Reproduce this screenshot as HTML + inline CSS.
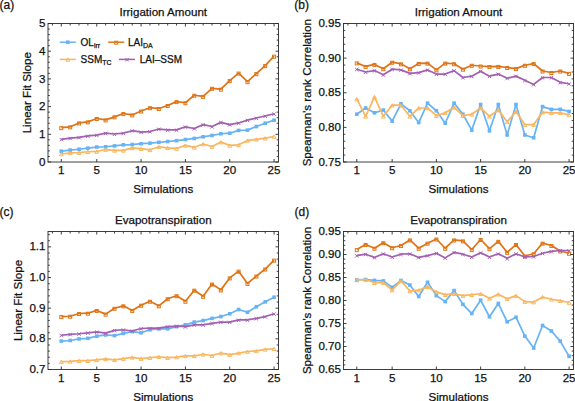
<!DOCTYPE html>
<html><head><meta charset="utf-8"><style>
html,body{margin:0;padding:0;background:#fff;}
svg{display:block;}
text{font-family:"Liberation Sans", sans-serif;font-size:11.6px;fill:#111;stroke:#111;stroke-width:0.25px;}
</style></head><body>
<svg width="575" height="401" viewBox="0 0 575 401">
<rect width="575" height="401" fill="#fff"/>
<polyline fill="none" stroke="#66b3f6" stroke-width="1.7" stroke-linejoin="round" points="61.3,151.2 70.16,150.09 79.03,149.26 87.89,148.15 96.76,147.04 105.62,146.76 114.49,145.93 123.36,144.83 132.22,144.55 141.09,143.72 149.95,143.16 158.82,142.33 167.68,141.5 176.55,140.67 185.41,139.56 194.28,138.46 203.14,136.79 212.01,135.41 220.88,133.75 229.74,133.19 238.61,130.42 247.47,130.15 256.34,126.54 265.2,123.22 274.07,120.17"/>
<rect x="59.5" y="149.4" width="3.6" height="3.6" fill="#66b3f6"/>
<rect x="68.36" y="148.29" width="3.6" height="3.6" fill="#66b3f6"/>
<rect x="77.23" y="147.46" width="3.6" height="3.6" fill="#66b3f6"/>
<rect x="86.09" y="146.35" width="3.6" height="3.6" fill="#66b3f6"/>
<rect x="94.96" y="145.24" width="3.6" height="3.6" fill="#66b3f6"/>
<rect x="103.83" y="144.96" width="3.6" height="3.6" fill="#66b3f6"/>
<rect x="112.69" y="144.13" width="3.6" height="3.6" fill="#66b3f6"/>
<rect x="121.56" y="143.03" width="3.6" height="3.6" fill="#66b3f6"/>
<rect x="130.42" y="142.75" width="3.6" height="3.6" fill="#66b3f6"/>
<rect x="139.29" y="141.92" width="3.6" height="3.6" fill="#66b3f6"/>
<rect x="148.15" y="141.36" width="3.6" height="3.6" fill="#66b3f6"/>
<rect x="157.02" y="140.53" width="3.6" height="3.6" fill="#66b3f6"/>
<rect x="165.88" y="139.7" width="3.6" height="3.6" fill="#66b3f6"/>
<rect x="174.75" y="138.87" width="3.6" height="3.6" fill="#66b3f6"/>
<rect x="183.61" y="137.76" width="3.6" height="3.6" fill="#66b3f6"/>
<rect x="192.48" y="136.66" width="3.6" height="3.6" fill="#66b3f6"/>
<rect x="201.34" y="134.99" width="3.6" height="3.6" fill="#66b3f6"/>
<rect x="210.21" y="133.61" width="3.6" height="3.6" fill="#66b3f6"/>
<rect x="219.07" y="131.95" width="3.6" height="3.6" fill="#66b3f6"/>
<rect x="227.94" y="131.39" width="3.6" height="3.6" fill="#66b3f6"/>
<rect x="236.81" y="128.62" width="3.6" height="3.6" fill="#66b3f6"/>
<rect x="245.67" y="128.34" width="3.6" height="3.6" fill="#66b3f6"/>
<rect x="254.54" y="124.74" width="3.6" height="3.6" fill="#66b3f6"/>
<rect x="263.4" y="121.42" width="3.6" height="3.6" fill="#66b3f6"/>
<rect x="272.27" y="118.37" width="3.6" height="3.6" fill="#66b3f6"/>
<polyline fill="none" stroke="#e07414" stroke-width="1.7" stroke-linejoin="round" points="61.3,127.65 70.16,126.82 79.03,122.94 87.89,121.84 96.76,118.51 105.62,119.9 114.49,116.85 123.36,113.53 132.22,114.91 141.09,111.03 149.95,107.71 158.82,108.54 167.68,105.49 176.55,101.61 185.41,102.72 194.28,95.24 203.14,96.35 212.01,88.32 220.88,89.15 229.74,80.56 238.61,73.08 247.47,81.67 256.34,73.64 265.2,65.6 274.07,56.19"/>
<rect x="59.8" y="126.65" width="3" height="3" fill="none" stroke="#e07414" stroke-width="1"/>
<rect x="68.66" y="125.82" width="3" height="3" fill="none" stroke="#e07414" stroke-width="1"/>
<rect x="77.53" y="121.94" width="3" height="3" fill="none" stroke="#e07414" stroke-width="1"/>
<rect x="86.39" y="120.84" width="3" height="3" fill="none" stroke="#e07414" stroke-width="1"/>
<rect x="95.26" y="117.51" width="3" height="3" fill="none" stroke="#e07414" stroke-width="1"/>
<rect x="104.12" y="118.9" width="3" height="3" fill="none" stroke="#e07414" stroke-width="1"/>
<rect x="112.99" y="115.85" width="3" height="3" fill="none" stroke="#e07414" stroke-width="1"/>
<rect x="121.86" y="112.53" width="3" height="3" fill="none" stroke="#e07414" stroke-width="1"/>
<rect x="130.72" y="113.91" width="3" height="3" fill="none" stroke="#e07414" stroke-width="1"/>
<rect x="139.59" y="110.03" width="3" height="3" fill="none" stroke="#e07414" stroke-width="1"/>
<rect x="148.45" y="106.71" width="3" height="3" fill="none" stroke="#e07414" stroke-width="1"/>
<rect x="157.32" y="107.54" width="3" height="3" fill="none" stroke="#e07414" stroke-width="1"/>
<rect x="166.18" y="104.49" width="3" height="3" fill="none" stroke="#e07414" stroke-width="1"/>
<rect x="175.05" y="100.61" width="3" height="3" fill="none" stroke="#e07414" stroke-width="1"/>
<rect x="183.91" y="101.72" width="3" height="3" fill="none" stroke="#e07414" stroke-width="1"/>
<rect x="192.78" y="94.24" width="3" height="3" fill="none" stroke="#e07414" stroke-width="1"/>
<rect x="201.64" y="95.35" width="3" height="3" fill="none" stroke="#e07414" stroke-width="1"/>
<rect x="210.51" y="87.32" width="3" height="3" fill="none" stroke="#e07414" stroke-width="1"/>
<rect x="219.38" y="88.15" width="3" height="3" fill="none" stroke="#e07414" stroke-width="1"/>
<rect x="228.24" y="79.56" width="3" height="3" fill="none" stroke="#e07414" stroke-width="1"/>
<rect x="237.11" y="72.08" width="3" height="3" fill="none" stroke="#e07414" stroke-width="1"/>
<rect x="245.97" y="80.67" width="3" height="3" fill="none" stroke="#e07414" stroke-width="1"/>
<rect x="254.84" y="72.64" width="3" height="3" fill="none" stroke="#e07414" stroke-width="1"/>
<rect x="263.7" y="64.6" width="3" height="3" fill="none" stroke="#e07414" stroke-width="1"/>
<rect x="272.57" y="55.19" width="3" height="3" fill="none" stroke="#e07414" stroke-width="1"/>
<polyline fill="none" stroke="#f9b65e" stroke-width="1.7" stroke-linejoin="round" points="61.3,153.97 70.16,152.86 79.03,152.58 87.89,151.75 96.76,151.47 105.62,149.53 114.49,150.37 123.36,150.37 132.22,147.87 141.09,148.7 149.95,149.81 158.82,146.76 167.68,147.87 176.55,148.43 185.41,145.38 194.28,147.32 203.14,144 212.01,146.49 220.88,142.06 229.74,145.38 238.61,144.83 247.47,140.39 256.34,139.29 265.2,138.18 274.07,136.52"/>
<path d="M61.3 152.47l1.9 3.3h-3.8z" fill="none" stroke="#f9b65e" stroke-width="1"/>
<path d="M70.16 151.36l1.9 3.3h-3.8z" fill="none" stroke="#f9b65e" stroke-width="1"/>
<path d="M79.03 151.08l1.9 3.3h-3.8z" fill="none" stroke="#f9b65e" stroke-width="1"/>
<path d="M87.89 150.25l1.9 3.3h-3.8z" fill="none" stroke="#f9b65e" stroke-width="1"/>
<path d="M96.76 149.97l1.9 3.3h-3.8z" fill="none" stroke="#f9b65e" stroke-width="1"/>
<path d="M105.62 148.03l1.9 3.3h-3.8z" fill="none" stroke="#f9b65e" stroke-width="1"/>
<path d="M114.49 148.87l1.9 3.3h-3.8z" fill="none" stroke="#f9b65e" stroke-width="1"/>
<path d="M123.36 148.87l1.9 3.3h-3.8z" fill="none" stroke="#f9b65e" stroke-width="1"/>
<path d="M132.22 146.37l1.9 3.3h-3.8z" fill="none" stroke="#f9b65e" stroke-width="1"/>
<path d="M141.09 147.2l1.9 3.3h-3.8z" fill="none" stroke="#f9b65e" stroke-width="1"/>
<path d="M149.95 148.31l1.9 3.3h-3.8z" fill="none" stroke="#f9b65e" stroke-width="1"/>
<path d="M158.82 145.26l1.9 3.3h-3.8z" fill="none" stroke="#f9b65e" stroke-width="1"/>
<path d="M167.68 146.37l1.9 3.3h-3.8z" fill="none" stroke="#f9b65e" stroke-width="1"/>
<path d="M176.55 146.93l1.9 3.3h-3.8z" fill="none" stroke="#f9b65e" stroke-width="1"/>
<path d="M185.41 143.88l1.9 3.3h-3.8z" fill="none" stroke="#f9b65e" stroke-width="1"/>
<path d="M194.28 145.82l1.9 3.3h-3.8z" fill="none" stroke="#f9b65e" stroke-width="1"/>
<path d="M203.14 142.5l1.9 3.3h-3.8z" fill="none" stroke="#f9b65e" stroke-width="1"/>
<path d="M212.01 144.99l1.9 3.3h-3.8z" fill="none" stroke="#f9b65e" stroke-width="1"/>
<path d="M220.88 140.56l1.9 3.3h-3.8z" fill="none" stroke="#f9b65e" stroke-width="1"/>
<path d="M229.74 143.88l1.9 3.3h-3.8z" fill="none" stroke="#f9b65e" stroke-width="1"/>
<path d="M238.61 143.33l1.9 3.3h-3.8z" fill="none" stroke="#f9b65e" stroke-width="1"/>
<path d="M247.47 138.89l1.9 3.3h-3.8z" fill="none" stroke="#f9b65e" stroke-width="1"/>
<path d="M256.34 137.79l1.9 3.3h-3.8z" fill="none" stroke="#f9b65e" stroke-width="1"/>
<path d="M265.2 136.68l1.9 3.3h-3.8z" fill="none" stroke="#f9b65e" stroke-width="1"/>
<path d="M274.07 135.02l1.9 3.3h-3.8z" fill="none" stroke="#f9b65e" stroke-width="1"/>
<polyline fill="none" stroke="#a360b2" stroke-width="1.7" stroke-linejoin="round" points="61.3,139.29 70.16,138.18 79.03,137.35 87.89,135.96 96.76,135.13 105.62,133.19 114.49,134.02 123.36,133.19 132.22,130.7 141.09,132.08 149.95,131.53 158.82,129.04 167.68,129.87 176.55,129.87 185.41,126.82 194.28,128.48 203.14,124.6 212.01,126.54 220.88,122.39 229.74,124.6 238.61,122.94 247.47,120.17 256.34,117.96 265.2,116.02 274.07,113.8"/>
<path d="M59.6 137.89l3.4 3.4M63 137.89l-3.4 3.4" stroke="#a360b2" stroke-width="1"/>
<path d="M68.46 136.78l3.4 3.4M71.86 136.78l-3.4 3.4" stroke="#a360b2" stroke-width="1"/>
<path d="M77.33 135.95l3.4 3.4M80.73 135.95l-3.4 3.4" stroke="#a360b2" stroke-width="1"/>
<path d="M86.19 134.56l3.4 3.4M89.59 134.56l-3.4 3.4" stroke="#a360b2" stroke-width="1"/>
<path d="M95.06 133.73l3.4 3.4M98.46 133.73l-3.4 3.4" stroke="#a360b2" stroke-width="1"/>
<path d="M103.92 131.79l3.4 3.4M107.33 131.79l-3.4 3.4" stroke="#a360b2" stroke-width="1"/>
<path d="M112.79 132.62l3.4 3.4M116.19 132.62l-3.4 3.4" stroke="#a360b2" stroke-width="1"/>
<path d="M121.66 131.79l3.4 3.4M125.06 131.79l-3.4 3.4" stroke="#a360b2" stroke-width="1"/>
<path d="M130.52 129.3l3.4 3.4M133.92 129.3l-3.4 3.4" stroke="#a360b2" stroke-width="1"/>
<path d="M139.39 130.68l3.4 3.4M142.79 130.68l-3.4 3.4" stroke="#a360b2" stroke-width="1"/>
<path d="M148.25 130.13l3.4 3.4M151.65 130.13l-3.4 3.4" stroke="#a360b2" stroke-width="1"/>
<path d="M157.12 127.64l3.4 3.4M160.52 127.64l-3.4 3.4" stroke="#a360b2" stroke-width="1"/>
<path d="M165.98 128.47l3.4 3.4M169.38 128.47l-3.4 3.4" stroke="#a360b2" stroke-width="1"/>
<path d="M174.85 128.47l3.4 3.4M178.25 128.47l-3.4 3.4" stroke="#a360b2" stroke-width="1"/>
<path d="M183.71 125.42l3.4 3.4M187.11 125.42l-3.4 3.4" stroke="#a360b2" stroke-width="1"/>
<path d="M192.58 127.08l3.4 3.4M195.98 127.08l-3.4 3.4" stroke="#a360b2" stroke-width="1"/>
<path d="M201.44 123.2l3.4 3.4M204.84 123.2l-3.4 3.4" stroke="#a360b2" stroke-width="1"/>
<path d="M210.31 125.14l3.4 3.4M213.71 125.14l-3.4 3.4" stroke="#a360b2" stroke-width="1"/>
<path d="M219.18 120.99l3.4 3.4M222.57 120.99l-3.4 3.4" stroke="#a360b2" stroke-width="1"/>
<path d="M228.04 123.2l3.4 3.4M231.44 123.2l-3.4 3.4" stroke="#a360b2" stroke-width="1"/>
<path d="M236.91 121.54l3.4 3.4M240.31 121.54l-3.4 3.4" stroke="#a360b2" stroke-width="1"/>
<path d="M245.77 118.77l3.4 3.4M249.17 118.77l-3.4 3.4" stroke="#a360b2" stroke-width="1"/>
<path d="M254.64 116.56l3.4 3.4M258.04 116.56l-3.4 3.4" stroke="#a360b2" stroke-width="1"/>
<path d="M263.5 114.62l3.4 3.4M266.9 114.62l-3.4 3.4" stroke="#a360b2" stroke-width="1"/>
<path d="M272.37 112.4l3.4 3.4M275.77 112.4l-3.4 3.4" stroke="#a360b2" stroke-width="1"/>
<rect x="48" y="23.5" width="230.5" height="138.5" fill="none" stroke="#2a2a2a" stroke-width="0.9"/>
<text x="61.3" y="174.4" text-anchor="middle">1</text>
<text x="96.76" y="174.4" text-anchor="middle">5</text>
<text x="141.09" y="174.4" text-anchor="middle">10</text>
<text x="185.41" y="174.4" text-anchor="middle">15</text>
<text x="229.74" y="174.4" text-anchor="middle">20</text>
<text x="274.07" y="174.4" text-anchor="middle">25</text>
<text x="45.5" y="165.6" text-anchor="end">0</text>
<text x="45.5" y="137.9" text-anchor="end">1</text>
<text x="45.5" y="110.2" text-anchor="end">2</text>
<text x="45.5" y="82.5" text-anchor="end">3</text>
<text x="45.5" y="54.8" text-anchor="end">4</text>
<text x="45.5" y="27.1" text-anchor="end">5</text>
<path d="M61.3 162v-3 M96.76 162v-3 M141.09 162v-3 M185.41 162v-3 M229.74 162v-3 M274.07 162v-3 M52.43 23.5v2 M61.3 23.5v3 M70.16 23.5v2 M79.03 23.5v2 M87.89 23.5v2 M96.76 23.5v3 M105.62 23.5v2 M114.49 23.5v2 M123.36 23.5v2 M132.22 23.5v2 M141.09 23.5v3 M149.95 23.5v2 M158.82 23.5v2 M167.68 23.5v2 M176.55 23.5v2 M185.41 23.5v3 M194.28 23.5v2 M203.14 23.5v2 M212.01 23.5v2 M220.88 23.5v2 M229.74 23.5v3 M238.61 23.5v2 M247.47 23.5v2 M256.34 23.5v2 M265.2 23.5v2 M274.07 23.5v3 M48 162h3 M278.5 162h-3 M48 156.46h1.8 M278.5 156.46h-1.8 M48 150.92h1.8 M278.5 150.92h-1.8 M48 145.38h1.8 M278.5 145.38h-1.8 M48 139.84h1.8 M278.5 139.84h-1.8 M48 134.3h3 M278.5 134.3h-3 M48 128.76h1.8 M278.5 128.76h-1.8 M48 123.22h1.8 M278.5 123.22h-1.8 M48 117.68h1.8 M278.5 117.68h-1.8 M48 112.14h1.8 M278.5 112.14h-1.8 M48 106.6h3 M278.5 106.6h-3 M48 101.06h1.8 M278.5 101.06h-1.8 M48 95.52h1.8 M278.5 95.52h-1.8 M48 89.98h1.8 M278.5 89.98h-1.8 M48 84.44h1.8 M278.5 84.44h-1.8 M48 78.9h3 M278.5 78.9h-3 M48 73.36h1.8 M278.5 73.36h-1.8 M48 67.82h1.8 M278.5 67.82h-1.8 M48 62.28h1.8 M278.5 62.28h-1.8 M48 56.74h1.8 M278.5 56.74h-1.8 M48 51.2h3 M278.5 51.2h-3 M48 45.66h1.8 M278.5 45.66h-1.8 M48 40.12h1.8 M278.5 40.12h-1.8 M48 34.58h1.8 M278.5 34.58h-1.8 M48 29.04h1.8 M278.5 29.04h-1.8 M48 23.5h3 M278.5 23.5h-3" stroke="#2a2a2a" stroke-width="0.9" fill="none"/>
<text x="163.25" y="15.9" text-anchor="middle">Irrigation Amount</text>
<text x="163.25" y="193.2" text-anchor="middle">Simulations</text>
<text transform="translate(31 92.75) rotate(-90)" text-anchor="middle">Linear Fit Slope</text>
<text x="-0.5" y="8.7" style="font-size:12px">(a)</text>
<polyline fill="none" stroke="#66b3f6" stroke-width="1.7" stroke-linejoin="round" points="356.77,114.22 365.62,107.99 374.46,112.83 383.31,110.06 392.15,121.14 401,103.83 409.85,110.76 418.69,122.53 427.54,103.14 436.38,110.76 445.23,123.22 454.08,103.14 462.92,114.22 471.77,130.14 480.62,104.52 489.46,130.84 498.31,104.52 507.15,134.99 516,104.52 524.85,134.99 533.69,137.76 542.54,106.6 551.38,109.37 560.23,109.37 569.08,111.45"/>
<rect x="354.97" y="112.42" width="3.6" height="3.6" fill="#66b3f6"/>
<rect x="363.82" y="106.19" width="3.6" height="3.6" fill="#66b3f6"/>
<rect x="372.66" y="111.03" width="3.6" height="3.6" fill="#66b3f6"/>
<rect x="381.51" y="108.26" width="3.6" height="3.6" fill="#66b3f6"/>
<rect x="390.35" y="119.34" width="3.6" height="3.6" fill="#66b3f6"/>
<rect x="399.2" y="102.03" width="3.6" height="3.6" fill="#66b3f6"/>
<rect x="408.05" y="108.96" width="3.6" height="3.6" fill="#66b3f6"/>
<rect x="416.89" y="120.73" width="3.6" height="3.6" fill="#66b3f6"/>
<rect x="425.74" y="101.34" width="3.6" height="3.6" fill="#66b3f6"/>
<rect x="434.58" y="108.96" width="3.6" height="3.6" fill="#66b3f6"/>
<rect x="443.43" y="121.42" width="3.6" height="3.6" fill="#66b3f6"/>
<rect x="452.28" y="101.34" width="3.6" height="3.6" fill="#66b3f6"/>
<rect x="461.12" y="112.42" width="3.6" height="3.6" fill="#66b3f6"/>
<rect x="469.97" y="128.34" width="3.6" height="3.6" fill="#66b3f6"/>
<rect x="478.82" y="102.72" width="3.6" height="3.6" fill="#66b3f6"/>
<rect x="487.66" y="129.04" width="3.6" height="3.6" fill="#66b3f6"/>
<rect x="496.51" y="102.72" width="3.6" height="3.6" fill="#66b3f6"/>
<rect x="505.35" y="133.19" width="3.6" height="3.6" fill="#66b3f6"/>
<rect x="514.2" y="102.72" width="3.6" height="3.6" fill="#66b3f6"/>
<rect x="523.05" y="133.19" width="3.6" height="3.6" fill="#66b3f6"/>
<rect x="531.89" y="135.96" width="3.6" height="3.6" fill="#66b3f6"/>
<rect x="540.74" y="104.8" width="3.6" height="3.6" fill="#66b3f6"/>
<rect x="549.58" y="107.57" width="3.6" height="3.6" fill="#66b3f6"/>
<rect x="558.43" y="107.57" width="3.6" height="3.6" fill="#66b3f6"/>
<rect x="567.28" y="109.65" width="3.6" height="3.6" fill="#66b3f6"/>
<polyline fill="none" stroke="#e07414" stroke-width="1.7" stroke-linejoin="round" points="356.77,62.9 365.62,66.43 374.46,64.43 383.31,68.72 392.15,62.21 401,63.87 409.85,68.79 418.69,63.46 427.54,63.11 436.38,69.83 445.23,63.11 454.08,63.73 462.92,69.2 471.77,65.26 480.62,66.02 489.46,66.57 498.31,66.43 507.15,67.47 516,68.58 524.85,65.26 533.69,63.6 542.54,71.01 551.38,72.53 560.23,71.01 569.08,73.36"/>
<rect x="355.27" y="61.9" width="3" height="3" fill="none" stroke="#e07414" stroke-width="1"/>
<rect x="364.12" y="65.43" width="3" height="3" fill="none" stroke="#e07414" stroke-width="1"/>
<rect x="372.96" y="63.43" width="3" height="3" fill="none" stroke="#e07414" stroke-width="1"/>
<rect x="381.81" y="67.72" width="3" height="3" fill="none" stroke="#e07414" stroke-width="1"/>
<rect x="390.65" y="61.21" width="3" height="3" fill="none" stroke="#e07414" stroke-width="1"/>
<rect x="399.5" y="62.87" width="3" height="3" fill="none" stroke="#e07414" stroke-width="1"/>
<rect x="408.35" y="67.79" width="3" height="3" fill="none" stroke="#e07414" stroke-width="1"/>
<rect x="417.19" y="62.46" width="3" height="3" fill="none" stroke="#e07414" stroke-width="1"/>
<rect x="426.04" y="62.11" width="3" height="3" fill="none" stroke="#e07414" stroke-width="1"/>
<rect x="434.88" y="68.83" width="3" height="3" fill="none" stroke="#e07414" stroke-width="1"/>
<rect x="443.73" y="62.11" width="3" height="3" fill="none" stroke="#e07414" stroke-width="1"/>
<rect x="452.58" y="62.73" width="3" height="3" fill="none" stroke="#e07414" stroke-width="1"/>
<rect x="461.42" y="68.2" width="3" height="3" fill="none" stroke="#e07414" stroke-width="1"/>
<rect x="470.27" y="64.26" width="3" height="3" fill="none" stroke="#e07414" stroke-width="1"/>
<rect x="479.12" y="65.02" width="3" height="3" fill="none" stroke="#e07414" stroke-width="1"/>
<rect x="487.96" y="65.57" width="3" height="3" fill="none" stroke="#e07414" stroke-width="1"/>
<rect x="496.81" y="65.43" width="3" height="3" fill="none" stroke="#e07414" stroke-width="1"/>
<rect x="505.65" y="66.47" width="3" height="3" fill="none" stroke="#e07414" stroke-width="1"/>
<rect x="514.5" y="67.58" width="3" height="3" fill="none" stroke="#e07414" stroke-width="1"/>
<rect x="523.35" y="64.26" width="3" height="3" fill="none" stroke="#e07414" stroke-width="1"/>
<rect x="532.19" y="62.6" width="3" height="3" fill="none" stroke="#e07414" stroke-width="1"/>
<rect x="541.04" y="70.01" width="3" height="3" fill="none" stroke="#e07414" stroke-width="1"/>
<rect x="549.88" y="71.53" width="3" height="3" fill="none" stroke="#e07414" stroke-width="1"/>
<rect x="558.73" y="70.01" width="3" height="3" fill="none" stroke="#e07414" stroke-width="1"/>
<rect x="567.58" y="72.36" width="3" height="3" fill="none" stroke="#e07414" stroke-width="1"/>
<polyline fill="none" stroke="#f9b65e" stroke-width="1.7" stroke-linejoin="round" points="356.77,98.98 365.62,116.3 374.46,96.91 383.31,116.3 392.15,105.22 401,105.22 409.85,116.3 418.69,107.99 427.54,107.99 436.38,115.6 445.23,112.83 454.08,107.29 462.92,115.6 471.77,114.22 480.62,107.99 489.46,116.3 498.31,110.06 507.15,121.83 516,111.45 524.85,124.6 533.69,124.6 542.54,112.14 551.38,112.83 560.23,112.83 569.08,114.91"/>
<path d="M356.77 97.48l1.9 3.3h-3.8z" fill="none" stroke="#f9b65e" stroke-width="1"/>
<path d="M365.62 114.8l1.9 3.3h-3.8z" fill="none" stroke="#f9b65e" stroke-width="1"/>
<path d="M374.46 95.41l1.9 3.3h-3.8z" fill="none" stroke="#f9b65e" stroke-width="1"/>
<path d="M383.31 114.8l1.9 3.3h-3.8z" fill="none" stroke="#f9b65e" stroke-width="1"/>
<path d="M392.15 103.72l1.9 3.3h-3.8z" fill="none" stroke="#f9b65e" stroke-width="1"/>
<path d="M401 103.72l1.9 3.3h-3.8z" fill="none" stroke="#f9b65e" stroke-width="1"/>
<path d="M409.85 114.8l1.9 3.3h-3.8z" fill="none" stroke="#f9b65e" stroke-width="1"/>
<path d="M418.69 106.49l1.9 3.3h-3.8z" fill="none" stroke="#f9b65e" stroke-width="1"/>
<path d="M427.54 106.49l1.9 3.3h-3.8z" fill="none" stroke="#f9b65e" stroke-width="1"/>
<path d="M436.38 114.1l1.9 3.3h-3.8z" fill="none" stroke="#f9b65e" stroke-width="1"/>
<path d="M445.23 111.33l1.9 3.3h-3.8z" fill="none" stroke="#f9b65e" stroke-width="1"/>
<path d="M454.08 105.79l1.9 3.3h-3.8z" fill="none" stroke="#f9b65e" stroke-width="1"/>
<path d="M462.92 114.1l1.9 3.3h-3.8z" fill="none" stroke="#f9b65e" stroke-width="1"/>
<path d="M471.77 112.72l1.9 3.3h-3.8z" fill="none" stroke="#f9b65e" stroke-width="1"/>
<path d="M480.62 106.49l1.9 3.3h-3.8z" fill="none" stroke="#f9b65e" stroke-width="1"/>
<path d="M489.46 114.8l1.9 3.3h-3.8z" fill="none" stroke="#f9b65e" stroke-width="1"/>
<path d="M498.31 108.56l1.9 3.3h-3.8z" fill="none" stroke="#f9b65e" stroke-width="1"/>
<path d="M507.15 120.33l1.9 3.3h-3.8z" fill="none" stroke="#f9b65e" stroke-width="1"/>
<path d="M516 109.95l1.9 3.3h-3.8z" fill="none" stroke="#f9b65e" stroke-width="1"/>
<path d="M524.85 123.1l1.9 3.3h-3.8z" fill="none" stroke="#f9b65e" stroke-width="1"/>
<path d="M533.69 123.1l1.9 3.3h-3.8z" fill="none" stroke="#f9b65e" stroke-width="1"/>
<path d="M542.54 110.64l1.9 3.3h-3.8z" fill="none" stroke="#f9b65e" stroke-width="1"/>
<path d="M551.38 111.33l1.9 3.3h-3.8z" fill="none" stroke="#f9b65e" stroke-width="1"/>
<path d="M560.23 111.33l1.9 3.3h-3.8z" fill="none" stroke="#f9b65e" stroke-width="1"/>
<path d="M569.08 113.41l1.9 3.3h-3.8z" fill="none" stroke="#f9b65e" stroke-width="1"/>
<polyline fill="none" stroke="#a360b2" stroke-width="1.7" stroke-linejoin="round" points="356.77,69.2 365.62,71.97 374.46,70.59 383.31,74.74 392.15,69.2 401,69.9 409.85,73.36 418.69,72.67 427.54,69.9 436.38,74.05 445.23,74.05 454.08,70.59 462.92,77.51 471.77,76.13 480.62,71.28 489.46,76.13 498.31,74.05 507.15,78.21 516,76.13 524.85,80.28 533.69,84.44 542.54,77.51 551.38,77.51 560.23,82.36 569.08,83.75"/>
<path d="M355.07 67.8l3.4 3.4M358.47 67.8l-3.4 3.4" stroke="#a360b2" stroke-width="1"/>
<path d="M363.92 70.57l3.4 3.4M367.32 70.57l-3.4 3.4" stroke="#a360b2" stroke-width="1"/>
<path d="M372.76 69.19l3.4 3.4M376.16 69.19l-3.4 3.4" stroke="#a360b2" stroke-width="1"/>
<path d="M381.61 73.34l3.4 3.4M385.01 73.34l-3.4 3.4" stroke="#a360b2" stroke-width="1"/>
<path d="M390.45 67.8l3.4 3.4M393.85 67.8l-3.4 3.4" stroke="#a360b2" stroke-width="1"/>
<path d="M399.3 68.5l3.4 3.4M402.7 68.5l-3.4 3.4" stroke="#a360b2" stroke-width="1"/>
<path d="M408.15 71.96l3.4 3.4M411.55 71.96l-3.4 3.4" stroke="#a360b2" stroke-width="1"/>
<path d="M416.99 71.27l3.4 3.4M420.39 71.27l-3.4 3.4" stroke="#a360b2" stroke-width="1"/>
<path d="M425.84 68.5l3.4 3.4M429.24 68.5l-3.4 3.4" stroke="#a360b2" stroke-width="1"/>
<path d="M434.68 72.65l3.4 3.4M438.08 72.65l-3.4 3.4" stroke="#a360b2" stroke-width="1"/>
<path d="M443.53 72.65l3.4 3.4M446.93 72.65l-3.4 3.4" stroke="#a360b2" stroke-width="1"/>
<path d="M452.38 69.19l3.4 3.4M455.78 69.19l-3.4 3.4" stroke="#a360b2" stroke-width="1"/>
<path d="M461.22 76.11l3.4 3.4M464.62 76.11l-3.4 3.4" stroke="#a360b2" stroke-width="1"/>
<path d="M470.07 74.73l3.4 3.4M473.47 74.73l-3.4 3.4" stroke="#a360b2" stroke-width="1"/>
<path d="M478.92 69.88l3.4 3.4M482.32 69.88l-3.4 3.4" stroke="#a360b2" stroke-width="1"/>
<path d="M487.76 74.73l3.4 3.4M491.16 74.73l-3.4 3.4" stroke="#a360b2" stroke-width="1"/>
<path d="M496.61 72.65l3.4 3.4M500.01 72.65l-3.4 3.4" stroke="#a360b2" stroke-width="1"/>
<path d="M505.45 76.81l3.4 3.4M508.85 76.81l-3.4 3.4" stroke="#a360b2" stroke-width="1"/>
<path d="M514.3 74.73l3.4 3.4M517.7 74.73l-3.4 3.4" stroke="#a360b2" stroke-width="1"/>
<path d="M523.15 78.88l3.4 3.4M526.55 78.88l-3.4 3.4" stroke="#a360b2" stroke-width="1"/>
<path d="M531.99 83.04l3.4 3.4M535.39 83.04l-3.4 3.4" stroke="#a360b2" stroke-width="1"/>
<path d="M540.84 76.11l3.4 3.4M544.24 76.11l-3.4 3.4" stroke="#a360b2" stroke-width="1"/>
<path d="M549.68 76.11l3.4 3.4M553.08 76.11l-3.4 3.4" stroke="#a360b2" stroke-width="1"/>
<path d="M558.53 80.96l3.4 3.4M561.93 80.96l-3.4 3.4" stroke="#a360b2" stroke-width="1"/>
<path d="M567.38 82.35l3.4 3.4M570.78 82.35l-3.4 3.4" stroke="#a360b2" stroke-width="1"/>
<rect x="343.5" y="23.5" width="230" height="138.5" fill="none" stroke="#2a2a2a" stroke-width="0.9"/>
<text x="356.77" y="174.4" text-anchor="middle">1</text>
<text x="392.15" y="174.4" text-anchor="middle">5</text>
<text x="436.38" y="174.4" text-anchor="middle">10</text>
<text x="480.62" y="174.4" text-anchor="middle">15</text>
<text x="524.85" y="174.4" text-anchor="middle">20</text>
<text x="569.08" y="174.4" text-anchor="middle">25</text>
<text x="341" y="165.6" text-anchor="end">0.75</text>
<text x="341" y="130.97" text-anchor="end">0.80</text>
<text x="341" y="96.35" text-anchor="end">0.85</text>
<text x="341" y="61.72" text-anchor="end">0.90</text>
<text x="341" y="27.1" text-anchor="end">0.95</text>
<path d="M356.77 162v-3 M392.15 162v-3 M436.38 162v-3 M480.62 162v-3 M524.85 162v-3 M569.08 162v-3 M347.92 23.5v2 M356.77 23.5v3 M365.62 23.5v2 M374.46 23.5v2 M383.31 23.5v2 M392.15 23.5v3 M401 23.5v2 M409.85 23.5v2 M418.69 23.5v2 M427.54 23.5v2 M436.38 23.5v3 M445.23 23.5v2 M454.08 23.5v2 M462.92 23.5v2 M471.77 23.5v2 M480.62 23.5v3 M489.46 23.5v2 M498.31 23.5v2 M507.15 23.5v2 M516 23.5v2 M524.85 23.5v3 M533.69 23.5v2 M542.54 23.5v2 M551.38 23.5v2 M560.23 23.5v2 M569.08 23.5v3 M343.5 162h3 M573.5 162h-3 M343.5 155.07h1.8 M573.5 155.07h-1.8 M343.5 148.15h1.8 M573.5 148.15h-1.8 M343.5 141.22h1.8 M573.5 141.22h-1.8 M343.5 134.3h1.8 M573.5 134.3h-1.8 M343.5 127.37h3 M573.5 127.37h-3 M343.5 120.45h1.8 M573.5 120.45h-1.8 M343.5 113.52h1.8 M573.5 113.52h-1.8 M343.5 106.6h1.8 M573.5 106.6h-1.8 M343.5 99.68h1.8 M573.5 99.68h-1.8 M343.5 92.75h3 M573.5 92.75h-3 M343.5 85.82h1.8 M573.5 85.82h-1.8 M343.5 78.9h1.8 M573.5 78.9h-1.8 M343.5 71.97h1.8 M573.5 71.97h-1.8 M343.5 65.05h1.8 M573.5 65.05h-1.8 M343.5 58.12h3 M573.5 58.12h-3 M343.5 51.2h1.8 M573.5 51.2h-1.8 M343.5 44.27h1.8 M573.5 44.27h-1.8 M343.5 37.35h1.8 M573.5 37.35h-1.8 M343.5 30.43h1.8 M573.5 30.43h-1.8 M343.5 23.5h3 M573.5 23.5h-3" stroke="#2a2a2a" stroke-width="0.9" fill="none"/>
<text x="458.5" y="15.9" text-anchor="middle">Irrigation Amount</text>
<text x="458.5" y="193.2" text-anchor="middle">Simulations</text>
<text transform="translate(311 92.75) rotate(-90)" text-anchor="middle">Spearman's rank Correlation</text>
<text x="294.3" y="8.7" style="font-size:12px">(b)</text>
<polyline fill="none" stroke="#66b3f6" stroke-width="1.7" stroke-linejoin="round" points="61.3,341.09 70.16,340.48 79.03,338.95 87.89,338.33 96.76,336.19 105.62,334.96 114.49,335.57 123.36,333.43 132.22,331.59 141.09,332.81 149.95,329.75 158.82,328.83 167.68,328.83 176.55,326.68 185.41,324.84 194.28,322.08 203.14,320.55 212.01,318.4 220.88,316.56 229.74,313.8 238.61,309.51 247.47,312.27 256.34,306.75 265.2,301.84 274.07,297.24"/>
<rect x="59.5" y="339.29" width="3.6" height="3.6" fill="#66b3f6"/>
<rect x="68.36" y="338.68" width="3.6" height="3.6" fill="#66b3f6"/>
<rect x="77.23" y="337.15" width="3.6" height="3.6" fill="#66b3f6"/>
<rect x="86.09" y="336.53" width="3.6" height="3.6" fill="#66b3f6"/>
<rect x="94.96" y="334.39" width="3.6" height="3.6" fill="#66b3f6"/>
<rect x="103.83" y="333.16" width="3.6" height="3.6" fill="#66b3f6"/>
<rect x="112.69" y="333.77" width="3.6" height="3.6" fill="#66b3f6"/>
<rect x="121.56" y="331.63" width="3.6" height="3.6" fill="#66b3f6"/>
<rect x="130.42" y="329.79" width="3.6" height="3.6" fill="#66b3f6"/>
<rect x="139.29" y="331.01" width="3.6" height="3.6" fill="#66b3f6"/>
<rect x="148.15" y="327.95" width="3.6" height="3.6" fill="#66b3f6"/>
<rect x="157.02" y="327.03" width="3.6" height="3.6" fill="#66b3f6"/>
<rect x="165.88" y="327.03" width="3.6" height="3.6" fill="#66b3f6"/>
<rect x="174.75" y="324.88" width="3.6" height="3.6" fill="#66b3f6"/>
<rect x="183.61" y="323.04" width="3.6" height="3.6" fill="#66b3f6"/>
<rect x="192.48" y="320.28" width="3.6" height="3.6" fill="#66b3f6"/>
<rect x="201.34" y="318.75" width="3.6" height="3.6" fill="#66b3f6"/>
<rect x="210.21" y="316.6" width="3.6" height="3.6" fill="#66b3f6"/>
<rect x="219.07" y="314.76" width="3.6" height="3.6" fill="#66b3f6"/>
<rect x="227.94" y="312" width="3.6" height="3.6" fill="#66b3f6"/>
<rect x="236.81" y="307.71" width="3.6" height="3.6" fill="#66b3f6"/>
<rect x="245.67" y="310.47" width="3.6" height="3.6" fill="#66b3f6"/>
<rect x="254.54" y="304.95" width="3.6" height="3.6" fill="#66b3f6"/>
<rect x="263.4" y="300.04" width="3.6" height="3.6" fill="#66b3f6"/>
<rect x="272.27" y="295.44" width="3.6" height="3.6" fill="#66b3f6"/>
<polyline fill="none" stroke="#e07414" stroke-width="1.7" stroke-linejoin="round" points="61.3,316.56 70.16,316.25 79.03,313.49 87.89,313.19 96.76,310.43 105.62,314.11 114.49,308.28 123.36,305.83 132.22,310.43 141.09,305.21 149.95,301.23 158.82,305.83 167.68,298.77 176.55,295.71 185.41,301.23 194.28,290.19 203.14,296.32 212.01,284.05 220.88,289.88 229.74,277.92 238.61,271.17 247.47,283.44 256.34,276.08 265.2,269.03 274.07,260.13"/>
<rect x="59.8" y="315.56" width="3" height="3" fill="none" stroke="#e07414" stroke-width="1"/>
<rect x="68.66" y="315.25" width="3" height="3" fill="none" stroke="#e07414" stroke-width="1"/>
<rect x="77.53" y="312.49" width="3" height="3" fill="none" stroke="#e07414" stroke-width="1"/>
<rect x="86.39" y="312.19" width="3" height="3" fill="none" stroke="#e07414" stroke-width="1"/>
<rect x="95.26" y="309.43" width="3" height="3" fill="none" stroke="#e07414" stroke-width="1"/>
<rect x="104.12" y="313.11" width="3" height="3" fill="none" stroke="#e07414" stroke-width="1"/>
<rect x="112.99" y="307.28" width="3" height="3" fill="none" stroke="#e07414" stroke-width="1"/>
<rect x="121.86" y="304.83" width="3" height="3" fill="none" stroke="#e07414" stroke-width="1"/>
<rect x="130.72" y="309.43" width="3" height="3" fill="none" stroke="#e07414" stroke-width="1"/>
<rect x="139.59" y="304.21" width="3" height="3" fill="none" stroke="#e07414" stroke-width="1"/>
<rect x="148.45" y="300.23" width="3" height="3" fill="none" stroke="#e07414" stroke-width="1"/>
<rect x="157.32" y="304.83" width="3" height="3" fill="none" stroke="#e07414" stroke-width="1"/>
<rect x="166.18" y="297.77" width="3" height="3" fill="none" stroke="#e07414" stroke-width="1"/>
<rect x="175.05" y="294.71" width="3" height="3" fill="none" stroke="#e07414" stroke-width="1"/>
<rect x="183.91" y="300.23" width="3" height="3" fill="none" stroke="#e07414" stroke-width="1"/>
<rect x="192.78" y="289.19" width="3" height="3" fill="none" stroke="#e07414" stroke-width="1"/>
<rect x="201.64" y="295.32" width="3" height="3" fill="none" stroke="#e07414" stroke-width="1"/>
<rect x="210.51" y="283.05" width="3" height="3" fill="none" stroke="#e07414" stroke-width="1"/>
<rect x="219.38" y="288.88" width="3" height="3" fill="none" stroke="#e07414" stroke-width="1"/>
<rect x="228.24" y="276.92" width="3" height="3" fill="none" stroke="#e07414" stroke-width="1"/>
<rect x="237.11" y="270.17" width="3" height="3" fill="none" stroke="#e07414" stroke-width="1"/>
<rect x="245.97" y="282.44" width="3" height="3" fill="none" stroke="#e07414" stroke-width="1"/>
<rect x="254.84" y="275.08" width="3" height="3" fill="none" stroke="#e07414" stroke-width="1"/>
<rect x="263.7" y="268.03" width="3" height="3" fill="none" stroke="#e07414" stroke-width="1"/>
<rect x="272.57" y="259.13" width="3" height="3" fill="none" stroke="#e07414" stroke-width="1"/>
<polyline fill="none" stroke="#f9b65e" stroke-width="1.7" stroke-linejoin="round" points="61.3,361.64 70.16,361.33 79.03,360.72 87.89,360.72 96.76,359.8 105.62,358.88 114.49,359.8 123.36,358.57 132.22,357.35 141.09,358.57 149.95,357.65 158.82,356.73 167.68,357.65 176.55,357.04 185.41,355.81 194.28,355.81 203.14,354.28 212.01,355.51 220.88,353.05 229.74,354.59 238.61,353.05 247.47,351.52 256.34,350.91 265.2,349.37 274.07,348.76"/>
<path d="M61.3 360.14l1.9 3.3h-3.8z" fill="none" stroke="#f9b65e" stroke-width="1"/>
<path d="M70.16 359.83l1.9 3.3h-3.8z" fill="none" stroke="#f9b65e" stroke-width="1"/>
<path d="M79.03 359.22l1.9 3.3h-3.8z" fill="none" stroke="#f9b65e" stroke-width="1"/>
<path d="M87.89 359.22l1.9 3.3h-3.8z" fill="none" stroke="#f9b65e" stroke-width="1"/>
<path d="M96.76 358.3l1.9 3.3h-3.8z" fill="none" stroke="#f9b65e" stroke-width="1"/>
<path d="M105.62 357.38l1.9 3.3h-3.8z" fill="none" stroke="#f9b65e" stroke-width="1"/>
<path d="M114.49 358.3l1.9 3.3h-3.8z" fill="none" stroke="#f9b65e" stroke-width="1"/>
<path d="M123.36 357.07l1.9 3.3h-3.8z" fill="none" stroke="#f9b65e" stroke-width="1"/>
<path d="M132.22 355.85l1.9 3.3h-3.8z" fill="none" stroke="#f9b65e" stroke-width="1"/>
<path d="M141.09 357.07l1.9 3.3h-3.8z" fill="none" stroke="#f9b65e" stroke-width="1"/>
<path d="M149.95 356.15l1.9 3.3h-3.8z" fill="none" stroke="#f9b65e" stroke-width="1"/>
<path d="M158.82 355.23l1.9 3.3h-3.8z" fill="none" stroke="#f9b65e" stroke-width="1"/>
<path d="M167.68 356.15l1.9 3.3h-3.8z" fill="none" stroke="#f9b65e" stroke-width="1"/>
<path d="M176.55 355.54l1.9 3.3h-3.8z" fill="none" stroke="#f9b65e" stroke-width="1"/>
<path d="M185.41 354.31l1.9 3.3h-3.8z" fill="none" stroke="#f9b65e" stroke-width="1"/>
<path d="M194.28 354.31l1.9 3.3h-3.8z" fill="none" stroke="#f9b65e" stroke-width="1"/>
<path d="M203.14 352.78l1.9 3.3h-3.8z" fill="none" stroke="#f9b65e" stroke-width="1"/>
<path d="M212.01 354.01l1.9 3.3h-3.8z" fill="none" stroke="#f9b65e" stroke-width="1"/>
<path d="M220.88 351.55l1.9 3.3h-3.8z" fill="none" stroke="#f9b65e" stroke-width="1"/>
<path d="M229.74 353.09l1.9 3.3h-3.8z" fill="none" stroke="#f9b65e" stroke-width="1"/>
<path d="M238.61 351.55l1.9 3.3h-3.8z" fill="none" stroke="#f9b65e" stroke-width="1"/>
<path d="M247.47 350.02l1.9 3.3h-3.8z" fill="none" stroke="#f9b65e" stroke-width="1"/>
<path d="M256.34 349.41l1.9 3.3h-3.8z" fill="none" stroke="#f9b65e" stroke-width="1"/>
<path d="M265.2 347.87l1.9 3.3h-3.8z" fill="none" stroke="#f9b65e" stroke-width="1"/>
<path d="M274.07 347.26l1.9 3.3h-3.8z" fill="none" stroke="#f9b65e" stroke-width="1"/>
<polyline fill="none" stroke="#a360b2" stroke-width="1.7" stroke-linejoin="round" points="61.3,335.27 70.16,334.35 79.03,333.73 87.89,332.81 96.76,331.89 105.62,333.12 114.49,330.36 123.36,329.75 132.22,330.97 141.09,328.52 149.95,328.21 158.82,328.21 167.68,326.68 176.55,326.07 185.41,326.68 194.28,324.84 203.14,324.84 212.01,323.31 220.88,322.08 229.74,322.08 238.61,319.93 247.47,319.93 256.34,318.4 265.2,316.56 274.07,313.8"/>
<path d="M59.6 333.87l3.4 3.4M63 333.87l-3.4 3.4" stroke="#a360b2" stroke-width="1"/>
<path d="M68.46 332.95l3.4 3.4M71.86 332.95l-3.4 3.4" stroke="#a360b2" stroke-width="1"/>
<path d="M77.33 332.33l3.4 3.4M80.73 332.33l-3.4 3.4" stroke="#a360b2" stroke-width="1"/>
<path d="M86.19 331.41l3.4 3.4M89.59 331.41l-3.4 3.4" stroke="#a360b2" stroke-width="1"/>
<path d="M95.06 330.49l3.4 3.4M98.46 330.49l-3.4 3.4" stroke="#a360b2" stroke-width="1"/>
<path d="M103.92 331.72l3.4 3.4M107.33 331.72l-3.4 3.4" stroke="#a360b2" stroke-width="1"/>
<path d="M112.79 328.96l3.4 3.4M116.19 328.96l-3.4 3.4" stroke="#a360b2" stroke-width="1"/>
<path d="M121.66 328.35l3.4 3.4M125.06 328.35l-3.4 3.4" stroke="#a360b2" stroke-width="1"/>
<path d="M130.52 329.57l3.4 3.4M133.92 329.57l-3.4 3.4" stroke="#a360b2" stroke-width="1"/>
<path d="M139.39 327.12l3.4 3.4M142.79 327.12l-3.4 3.4" stroke="#a360b2" stroke-width="1"/>
<path d="M148.25 326.81l3.4 3.4M151.65 326.81l-3.4 3.4" stroke="#a360b2" stroke-width="1"/>
<path d="M157.12 326.81l3.4 3.4M160.52 326.81l-3.4 3.4" stroke="#a360b2" stroke-width="1"/>
<path d="M165.98 325.28l3.4 3.4M169.38 325.28l-3.4 3.4" stroke="#a360b2" stroke-width="1"/>
<path d="M174.85 324.67l3.4 3.4M178.25 324.67l-3.4 3.4" stroke="#a360b2" stroke-width="1"/>
<path d="M183.71 325.28l3.4 3.4M187.11 325.28l-3.4 3.4" stroke="#a360b2" stroke-width="1"/>
<path d="M192.58 323.44l3.4 3.4M195.98 323.44l-3.4 3.4" stroke="#a360b2" stroke-width="1"/>
<path d="M201.44 323.44l3.4 3.4M204.84 323.44l-3.4 3.4" stroke="#a360b2" stroke-width="1"/>
<path d="M210.31 321.91l3.4 3.4M213.71 321.91l-3.4 3.4" stroke="#a360b2" stroke-width="1"/>
<path d="M219.18 320.68l3.4 3.4M222.57 320.68l-3.4 3.4" stroke="#a360b2" stroke-width="1"/>
<path d="M228.04 320.68l3.4 3.4M231.44 320.68l-3.4 3.4" stroke="#a360b2" stroke-width="1"/>
<path d="M236.91 318.53l3.4 3.4M240.31 318.53l-3.4 3.4" stroke="#a360b2" stroke-width="1"/>
<path d="M245.77 318.53l3.4 3.4M249.17 318.53l-3.4 3.4" stroke="#a360b2" stroke-width="1"/>
<path d="M254.64 317l3.4 3.4M258.04 317l-3.4 3.4" stroke="#a360b2" stroke-width="1"/>
<path d="M263.5 315.16l3.4 3.4M266.9 315.16l-3.4 3.4" stroke="#a360b2" stroke-width="1"/>
<path d="M272.37 312.4l3.4 3.4M275.77 312.4l-3.4 3.4" stroke="#a360b2" stroke-width="1"/>
<rect x="48" y="231.5" width="230.5" height="138" fill="none" stroke="#2a2a2a" stroke-width="0.9"/>
<text x="61.3" y="382.1" text-anchor="middle">1</text>
<text x="96.76" y="382.1" text-anchor="middle">5</text>
<text x="141.09" y="382.1" text-anchor="middle">10</text>
<text x="185.41" y="382.1" text-anchor="middle">15</text>
<text x="229.74" y="382.1" text-anchor="middle">20</text>
<text x="274.07" y="382.1" text-anchor="middle">25</text>
<text x="45.5" y="373.1" text-anchor="end">0.7</text>
<text x="45.5" y="342.43" text-anchor="end">0.8</text>
<text x="45.5" y="311.77" text-anchor="end">0.9</text>
<text x="45.5" y="281.1" text-anchor="end">1.0</text>
<text x="45.5" y="250.43" text-anchor="end">1.1</text>
<path d="M61.3 369.5v-3 M96.76 369.5v-3 M141.09 369.5v-3 M185.41 369.5v-3 M229.74 369.5v-3 M274.07 369.5v-3 M52.43 231.5v2 M61.3 231.5v3 M70.16 231.5v2 M79.03 231.5v2 M87.89 231.5v2 M96.76 231.5v3 M105.62 231.5v2 M114.49 231.5v2 M123.36 231.5v2 M132.22 231.5v2 M141.09 231.5v3 M149.95 231.5v2 M158.82 231.5v2 M167.68 231.5v2 M176.55 231.5v2 M185.41 231.5v3 M194.28 231.5v2 M203.14 231.5v2 M212.01 231.5v2 M220.88 231.5v2 M229.74 231.5v3 M238.61 231.5v2 M247.47 231.5v2 M256.34 231.5v2 M265.2 231.5v2 M274.07 231.5v3 M48 369.5h3 M278.5 369.5h-3 M48 363.37h1.8 M278.5 363.37h-1.8 M48 357.23h1.8 M278.5 357.23h-1.8 M48 351.1h1.8 M278.5 351.1h-1.8 M48 344.97h1.8 M278.5 344.97h-1.8 M48 338.83h3 M278.5 338.83h-3 M48 332.7h1.8 M278.5 332.7h-1.8 M48 326.57h1.8 M278.5 326.57h-1.8 M48 320.43h1.8 M278.5 320.43h-1.8 M48 314.3h1.8 M278.5 314.3h-1.8 M48 308.17h3 M278.5 308.17h-3 M48 302.03h1.8 M278.5 302.03h-1.8 M48 295.9h1.8 M278.5 295.9h-1.8 M48 289.77h1.8 M278.5 289.77h-1.8 M48 283.63h1.8 M278.5 283.63h-1.8 M48 277.5h3 M278.5 277.5h-3 M48 271.37h1.8 M278.5 271.37h-1.8 M48 265.23h1.8 M278.5 265.23h-1.8 M48 259.1h1.8 M278.5 259.1h-1.8 M48 252.97h1.8 M278.5 252.97h-1.8 M48 246.83h3 M278.5 246.83h-3 M48 240.7h1.8 M278.5 240.7h-1.8 M48 234.57h1.8 M278.5 234.57h-1.8" stroke="#2a2a2a" stroke-width="0.9" fill="none"/>
<text x="163.25" y="223.6" text-anchor="middle">Evapotranspiration</text>
<text x="163.25" y="400.8" text-anchor="middle">Simulations</text>
<text transform="translate(22 300.5) rotate(-90)" text-anchor="middle">Linear Fit Slope</text>
<text x="-0.5" y="215.9" style="font-size:12px">(c)</text>
<polyline fill="none" stroke="#66b3f6" stroke-width="1.7" stroke-linejoin="round" points="356.77,279.96 365.62,279.5 374.46,280.42 383.31,280.88 392.15,287.32 401,280.42 409.85,285.02 418.69,296.52 427.54,282.26 436.38,295.6 445.23,301.58 454.08,290.54 462.92,304.34 471.77,313.54 480.62,300.2 489.46,316.76 498.31,303.42 507.15,321.82 516,317.22 524.85,336.08 533.69,348.04 542.54,325.5 551.38,331.02 560.23,341.14 569.08,356.32"/>
<rect x="354.97" y="278.16" width="3.6" height="3.6" fill="#66b3f6"/>
<rect x="363.82" y="277.7" width="3.6" height="3.6" fill="#66b3f6"/>
<rect x="372.66" y="278.62" width="3.6" height="3.6" fill="#66b3f6"/>
<rect x="381.51" y="279.08" width="3.6" height="3.6" fill="#66b3f6"/>
<rect x="390.35" y="285.52" width="3.6" height="3.6" fill="#66b3f6"/>
<rect x="399.2" y="278.62" width="3.6" height="3.6" fill="#66b3f6"/>
<rect x="408.05" y="283.22" width="3.6" height="3.6" fill="#66b3f6"/>
<rect x="416.89" y="294.72" width="3.6" height="3.6" fill="#66b3f6"/>
<rect x="425.74" y="280.46" width="3.6" height="3.6" fill="#66b3f6"/>
<rect x="434.58" y="293.8" width="3.6" height="3.6" fill="#66b3f6"/>
<rect x="443.43" y="299.78" width="3.6" height="3.6" fill="#66b3f6"/>
<rect x="452.28" y="288.74" width="3.6" height="3.6" fill="#66b3f6"/>
<rect x="461.12" y="302.54" width="3.6" height="3.6" fill="#66b3f6"/>
<rect x="469.97" y="311.74" width="3.6" height="3.6" fill="#66b3f6"/>
<rect x="478.82" y="298.4" width="3.6" height="3.6" fill="#66b3f6"/>
<rect x="487.66" y="314.96" width="3.6" height="3.6" fill="#66b3f6"/>
<rect x="496.51" y="301.62" width="3.6" height="3.6" fill="#66b3f6"/>
<rect x="505.35" y="320.02" width="3.6" height="3.6" fill="#66b3f6"/>
<rect x="514.2" y="315.42" width="3.6" height="3.6" fill="#66b3f6"/>
<rect x="523.05" y="334.28" width="3.6" height="3.6" fill="#66b3f6"/>
<rect x="531.89" y="346.24" width="3.6" height="3.6" fill="#66b3f6"/>
<rect x="540.74" y="323.7" width="3.6" height="3.6" fill="#66b3f6"/>
<rect x="549.58" y="329.22" width="3.6" height="3.6" fill="#66b3f6"/>
<rect x="558.43" y="339.34" width="3.6" height="3.6" fill="#66b3f6"/>
<rect x="567.28" y="354.52" width="3.6" height="3.6" fill="#66b3f6"/>
<polyline fill="none" stroke="#e07414" stroke-width="1.7" stroke-linejoin="round" points="356.77,249.6 365.62,244.54 374.46,248.22 383.31,242.7 392.15,247.76 401,245.46 409.85,239.94 418.69,248.22 427.54,243.16 436.38,239.02 445.23,248.22 454.08,239.94 462.92,240.86 471.77,249.6 480.62,239.48 489.46,248.68 498.31,241.32 507.15,252.36 516,244.54 524.85,256.04 533.69,253.74 542.54,243.16 551.38,245.46 560.23,250.98 569.08,253.28"/>
<rect x="355.27" y="248.6" width="3" height="3" fill="none" stroke="#e07414" stroke-width="1"/>
<rect x="364.12" y="243.54" width="3" height="3" fill="none" stroke="#e07414" stroke-width="1"/>
<rect x="372.96" y="247.22" width="3" height="3" fill="none" stroke="#e07414" stroke-width="1"/>
<rect x="381.81" y="241.7" width="3" height="3" fill="none" stroke="#e07414" stroke-width="1"/>
<rect x="390.65" y="246.76" width="3" height="3" fill="none" stroke="#e07414" stroke-width="1"/>
<rect x="399.5" y="244.46" width="3" height="3" fill="none" stroke="#e07414" stroke-width="1"/>
<rect x="408.35" y="238.94" width="3" height="3" fill="none" stroke="#e07414" stroke-width="1"/>
<rect x="417.19" y="247.22" width="3" height="3" fill="none" stroke="#e07414" stroke-width="1"/>
<rect x="426.04" y="242.16" width="3" height="3" fill="none" stroke="#e07414" stroke-width="1"/>
<rect x="434.88" y="238.02" width="3" height="3" fill="none" stroke="#e07414" stroke-width="1"/>
<rect x="443.73" y="247.22" width="3" height="3" fill="none" stroke="#e07414" stroke-width="1"/>
<rect x="452.58" y="238.94" width="3" height="3" fill="none" stroke="#e07414" stroke-width="1"/>
<rect x="461.42" y="239.86" width="3" height="3" fill="none" stroke="#e07414" stroke-width="1"/>
<rect x="470.27" y="248.6" width="3" height="3" fill="none" stroke="#e07414" stroke-width="1"/>
<rect x="479.12" y="238.48" width="3" height="3" fill="none" stroke="#e07414" stroke-width="1"/>
<rect x="487.96" y="247.68" width="3" height="3" fill="none" stroke="#e07414" stroke-width="1"/>
<rect x="496.81" y="240.32" width="3" height="3" fill="none" stroke="#e07414" stroke-width="1"/>
<rect x="505.65" y="251.36" width="3" height="3" fill="none" stroke="#e07414" stroke-width="1"/>
<rect x="514.5" y="243.54" width="3" height="3" fill="none" stroke="#e07414" stroke-width="1"/>
<rect x="523.35" y="255.04" width="3" height="3" fill="none" stroke="#e07414" stroke-width="1"/>
<rect x="532.19" y="252.74" width="3" height="3" fill="none" stroke="#e07414" stroke-width="1"/>
<rect x="541.04" y="242.16" width="3" height="3" fill="none" stroke="#e07414" stroke-width="1"/>
<rect x="549.88" y="244.46" width="3" height="3" fill="none" stroke="#e07414" stroke-width="1"/>
<rect x="558.73" y="249.98" width="3" height="3" fill="none" stroke="#e07414" stroke-width="1"/>
<rect x="567.58" y="252.28" width="3" height="3" fill="none" stroke="#e07414" stroke-width="1"/>
<polyline fill="none" stroke="#f9b65e" stroke-width="1.7" stroke-linejoin="round" points="356.77,279.96 365.62,279.5 374.46,282.72 383.31,282.72 392.15,290.08 401,280.88 409.85,291 418.69,290.08 427.54,286.86 436.38,291.92 445.23,294.68 454.08,293.76 462.92,295.6 471.77,294.68 480.62,293.76 489.46,298.36 498.31,294.22 507.15,298.82 516,295.6 524.85,301.58 533.69,302.04 542.54,296.98 551.38,299.28 560.23,300.66 569.08,302.5"/>
<path d="M356.77 278.46l1.9 3.3h-3.8z" fill="none" stroke="#f9b65e" stroke-width="1"/>
<path d="M365.62 278l1.9 3.3h-3.8z" fill="none" stroke="#f9b65e" stroke-width="1"/>
<path d="M374.46 281.22l1.9 3.3h-3.8z" fill="none" stroke="#f9b65e" stroke-width="1"/>
<path d="M383.31 281.22l1.9 3.3h-3.8z" fill="none" stroke="#f9b65e" stroke-width="1"/>
<path d="M392.15 288.58l1.9 3.3h-3.8z" fill="none" stroke="#f9b65e" stroke-width="1"/>
<path d="M401 279.38l1.9 3.3h-3.8z" fill="none" stroke="#f9b65e" stroke-width="1"/>
<path d="M409.85 289.5l1.9 3.3h-3.8z" fill="none" stroke="#f9b65e" stroke-width="1"/>
<path d="M418.69 288.58l1.9 3.3h-3.8z" fill="none" stroke="#f9b65e" stroke-width="1"/>
<path d="M427.54 285.36l1.9 3.3h-3.8z" fill="none" stroke="#f9b65e" stroke-width="1"/>
<path d="M436.38 290.42l1.9 3.3h-3.8z" fill="none" stroke="#f9b65e" stroke-width="1"/>
<path d="M445.23 293.18l1.9 3.3h-3.8z" fill="none" stroke="#f9b65e" stroke-width="1"/>
<path d="M454.08 292.26l1.9 3.3h-3.8z" fill="none" stroke="#f9b65e" stroke-width="1"/>
<path d="M462.92 294.1l1.9 3.3h-3.8z" fill="none" stroke="#f9b65e" stroke-width="1"/>
<path d="M471.77 293.18l1.9 3.3h-3.8z" fill="none" stroke="#f9b65e" stroke-width="1"/>
<path d="M480.62 292.26l1.9 3.3h-3.8z" fill="none" stroke="#f9b65e" stroke-width="1"/>
<path d="M489.46 296.86l1.9 3.3h-3.8z" fill="none" stroke="#f9b65e" stroke-width="1"/>
<path d="M498.31 292.72l1.9 3.3h-3.8z" fill="none" stroke="#f9b65e" stroke-width="1"/>
<path d="M507.15 297.32l1.9 3.3h-3.8z" fill="none" stroke="#f9b65e" stroke-width="1"/>
<path d="M516 294.1l1.9 3.3h-3.8z" fill="none" stroke="#f9b65e" stroke-width="1"/>
<path d="M524.85 300.08l1.9 3.3h-3.8z" fill="none" stroke="#f9b65e" stroke-width="1"/>
<path d="M533.69 300.54l1.9 3.3h-3.8z" fill="none" stroke="#f9b65e" stroke-width="1"/>
<path d="M542.54 295.48l1.9 3.3h-3.8z" fill="none" stroke="#f9b65e" stroke-width="1"/>
<path d="M551.38 297.78l1.9 3.3h-3.8z" fill="none" stroke="#f9b65e" stroke-width="1"/>
<path d="M560.23 299.16l1.9 3.3h-3.8z" fill="none" stroke="#f9b65e" stroke-width="1"/>
<path d="M569.08 301l1.9 3.3h-3.8z" fill="none" stroke="#f9b65e" stroke-width="1"/>
<polyline fill="none" stroke="#a360b2" stroke-width="1.7" stroke-linejoin="round" points="356.77,255.58 365.62,254.2 374.46,257.42 383.31,253.74 392.15,256.96 401,254.2 409.85,253.74 418.69,257.42 427.54,255.58 436.38,253.28 445.23,257.88 454.08,252.36 462.92,254.2 471.77,256.96 480.62,252.82 489.46,256.96 498.31,253.74 507.15,258.34 516,253.74 524.85,256.96 533.69,256.5 542.54,253.28 551.38,251.44 560.23,250.52 569.08,250.52"/>
<path d="M355.07 254.18l3.4 3.4M358.47 254.18l-3.4 3.4" stroke="#a360b2" stroke-width="1"/>
<path d="M363.92 252.8l3.4 3.4M367.32 252.8l-3.4 3.4" stroke="#a360b2" stroke-width="1"/>
<path d="M372.76 256.02l3.4 3.4M376.16 256.02l-3.4 3.4" stroke="#a360b2" stroke-width="1"/>
<path d="M381.61 252.34l3.4 3.4M385.01 252.34l-3.4 3.4" stroke="#a360b2" stroke-width="1"/>
<path d="M390.45 255.56l3.4 3.4M393.85 255.56l-3.4 3.4" stroke="#a360b2" stroke-width="1"/>
<path d="M399.3 252.8l3.4 3.4M402.7 252.8l-3.4 3.4" stroke="#a360b2" stroke-width="1"/>
<path d="M408.15 252.34l3.4 3.4M411.55 252.34l-3.4 3.4" stroke="#a360b2" stroke-width="1"/>
<path d="M416.99 256.02l3.4 3.4M420.39 256.02l-3.4 3.4" stroke="#a360b2" stroke-width="1"/>
<path d="M425.84 254.18l3.4 3.4M429.24 254.18l-3.4 3.4" stroke="#a360b2" stroke-width="1"/>
<path d="M434.68 251.88l3.4 3.4M438.08 251.88l-3.4 3.4" stroke="#a360b2" stroke-width="1"/>
<path d="M443.53 256.48l3.4 3.4M446.93 256.48l-3.4 3.4" stroke="#a360b2" stroke-width="1"/>
<path d="M452.38 250.96l3.4 3.4M455.78 250.96l-3.4 3.4" stroke="#a360b2" stroke-width="1"/>
<path d="M461.22 252.8l3.4 3.4M464.62 252.8l-3.4 3.4" stroke="#a360b2" stroke-width="1"/>
<path d="M470.07 255.56l3.4 3.4M473.47 255.56l-3.4 3.4" stroke="#a360b2" stroke-width="1"/>
<path d="M478.92 251.42l3.4 3.4M482.32 251.42l-3.4 3.4" stroke="#a360b2" stroke-width="1"/>
<path d="M487.76 255.56l3.4 3.4M491.16 255.56l-3.4 3.4" stroke="#a360b2" stroke-width="1"/>
<path d="M496.61 252.34l3.4 3.4M500.01 252.34l-3.4 3.4" stroke="#a360b2" stroke-width="1"/>
<path d="M505.45 256.94l3.4 3.4M508.85 256.94l-3.4 3.4" stroke="#a360b2" stroke-width="1"/>
<path d="M514.3 252.34l3.4 3.4M517.7 252.34l-3.4 3.4" stroke="#a360b2" stroke-width="1"/>
<path d="M523.15 255.56l3.4 3.4M526.55 255.56l-3.4 3.4" stroke="#a360b2" stroke-width="1"/>
<path d="M531.99 255.1l3.4 3.4M535.39 255.1l-3.4 3.4" stroke="#a360b2" stroke-width="1"/>
<path d="M540.84 251.88l3.4 3.4M544.24 251.88l-3.4 3.4" stroke="#a360b2" stroke-width="1"/>
<path d="M549.68 250.04l3.4 3.4M553.08 250.04l-3.4 3.4" stroke="#a360b2" stroke-width="1"/>
<path d="M558.53 249.12l3.4 3.4M561.93 249.12l-3.4 3.4" stroke="#a360b2" stroke-width="1"/>
<path d="M567.38 249.12l3.4 3.4M570.78 249.12l-3.4 3.4" stroke="#a360b2" stroke-width="1"/>
<rect x="343.5" y="231.5" width="230" height="138" fill="none" stroke="#2a2a2a" stroke-width="0.9"/>
<text x="356.77" y="382.1" text-anchor="middle">1</text>
<text x="392.15" y="382.1" text-anchor="middle">5</text>
<text x="436.38" y="382.1" text-anchor="middle">10</text>
<text x="480.62" y="382.1" text-anchor="middle">15</text>
<text x="524.85" y="382.1" text-anchor="middle">20</text>
<text x="569.08" y="382.1" text-anchor="middle">25</text>
<text x="341" y="373.1" text-anchor="end">0.65</text>
<text x="341" y="350.1" text-anchor="end">0.70</text>
<text x="341" y="327.1" text-anchor="end">0.75</text>
<text x="341" y="304.1" text-anchor="end">0.80</text>
<text x="341" y="281.1" text-anchor="end">0.85</text>
<text x="341" y="258.1" text-anchor="end">0.90</text>
<text x="341" y="235.1" text-anchor="end">0.95</text>
<path d="M356.77 369.5v-3 M392.15 369.5v-3 M436.38 369.5v-3 M480.62 369.5v-3 M524.85 369.5v-3 M569.08 369.5v-3 M347.92 231.5v2 M356.77 231.5v3 M365.62 231.5v2 M374.46 231.5v2 M383.31 231.5v2 M392.15 231.5v3 M401 231.5v2 M409.85 231.5v2 M418.69 231.5v2 M427.54 231.5v2 M436.38 231.5v3 M445.23 231.5v2 M454.08 231.5v2 M462.92 231.5v2 M471.77 231.5v2 M480.62 231.5v3 M489.46 231.5v2 M498.31 231.5v2 M507.15 231.5v2 M516 231.5v2 M524.85 231.5v3 M533.69 231.5v2 M542.54 231.5v2 M551.38 231.5v2 M560.23 231.5v2 M569.08 231.5v3 M343.5 369.5h3 M573.5 369.5h-3 M343.5 364.9h1.8 M573.5 364.9h-1.8 M343.5 360.3h1.8 M573.5 360.3h-1.8 M343.5 355.7h1.8 M573.5 355.7h-1.8 M343.5 351.1h1.8 M573.5 351.1h-1.8 M343.5 346.5h3 M573.5 346.5h-3 M343.5 341.9h1.8 M573.5 341.9h-1.8 M343.5 337.3h1.8 M573.5 337.3h-1.8 M343.5 332.7h1.8 M573.5 332.7h-1.8 M343.5 328.1h1.8 M573.5 328.1h-1.8 M343.5 323.5h3 M573.5 323.5h-3 M343.5 318.9h1.8 M573.5 318.9h-1.8 M343.5 314.3h1.8 M573.5 314.3h-1.8 M343.5 309.7h1.8 M573.5 309.7h-1.8 M343.5 305.1h1.8 M573.5 305.1h-1.8 M343.5 300.5h3 M573.5 300.5h-3 M343.5 295.9h1.8 M573.5 295.9h-1.8 M343.5 291.3h1.8 M573.5 291.3h-1.8 M343.5 286.7h1.8 M573.5 286.7h-1.8 M343.5 282.1h1.8 M573.5 282.1h-1.8 M343.5 277.5h3 M573.5 277.5h-3 M343.5 272.9h1.8 M573.5 272.9h-1.8 M343.5 268.3h1.8 M573.5 268.3h-1.8 M343.5 263.7h1.8 M573.5 263.7h-1.8 M343.5 259.1h1.8 M573.5 259.1h-1.8 M343.5 254.5h3 M573.5 254.5h-3 M343.5 249.9h1.8 M573.5 249.9h-1.8 M343.5 245.3h1.8 M573.5 245.3h-1.8 M343.5 240.7h1.8 M573.5 240.7h-1.8 M343.5 236.1h1.8 M573.5 236.1h-1.8 M343.5 231.5h3 M573.5 231.5h-3" stroke="#2a2a2a" stroke-width="0.9" fill="none"/>
<text x="458.5" y="223.6" text-anchor="middle">Evapotranspiration</text>
<text x="458.5" y="400.8" text-anchor="middle">Simulations</text>
<text transform="translate(311 300.5) rotate(-90)" text-anchor="middle">Spearman's rank Correlation</text>
<text x="294.5" y="215.9" style="font-size:12px">(d)</text>
<path d="M59.8 42.2h16" stroke="#66b3f6" stroke-width="1.5"/>
<rect x="66" y="40.4" width="3.6" height="3.6" fill="#66b3f6"/>
<text x="80.6" y="45.6" style="font-size:10px">OL<tspan style="font-size:7px" dy="2.2">irr</tspan></text>
<path d="M108.2 42.2h16" stroke="#e07414" stroke-width="1.5"/>
<rect x="114.7" y="41.2" width="3" height="3" fill="none" stroke="#e07414" stroke-width="1"/>
<text x="128" y="45.6" style="font-size:10px">LAI<tspan style="font-size:7px" dy="2.2">DA</tspan></text>
<path d="M59.8 59.4h16" stroke="#f9b65e" stroke-width="1.5"/>
<path d="M67.8 57.9l1.9 3.3h-3.8z" fill="none" stroke="#f9b65e" stroke-width="1"/>
<text x="80.6" y="62.8" style="font-size:10px">SSM<tspan style="font-size:7px" dy="2.2">TC</tspan></text>
<path d="M119 59.4h16" stroke="#a360b2" stroke-width="1.5"/>
<path d="M125.3 58l3.4 3.4M128.7 58l-3.4 3.4" stroke="#a360b2" stroke-width="1"/>
<text x="139.8" y="62.8" style="font-size:10px">LAI–SSM</text>
</svg></body></html>
